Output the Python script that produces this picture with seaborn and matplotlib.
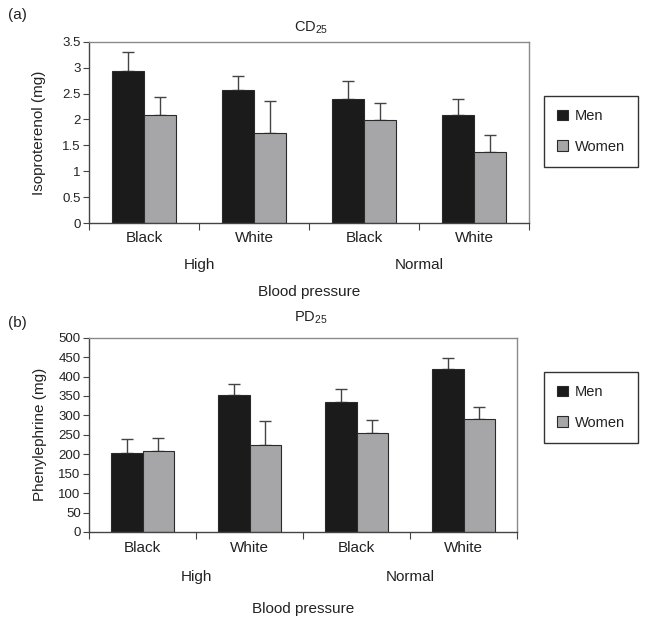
import numpy as np
import pandas as pd
import matplotlib.pyplot as plt
import seaborn as sns
from matplotlib.ticker import FuncFormatter

# Shared categories
bp_level = ['High', 'High', 'Normal', 'Normal']
race = ['Black', 'White', 'Black', 'White']
sexes = ['Men', 'Women']

# (a) CD25, isoproterenol (mg): means and upper error bars
cd_men = [2.94, 2.56, 2.39, 2.09]
cd_men_err = [0.36, 0.28, 0.35, 0.30]
cd_women = [2.08, 1.74, 1.98, 1.38]
cd_women_err = [0.35, 0.62, 0.33, 0.31]

# (b) PD25, phenylephrine (mg)
pd25_men = [204, 353, 334, 419]
pd25_men_err = [35, 27, 33, 30]
pd25_women = [208, 225, 254, 291]
pd25_women_err = [34, 60, 33, 30]

sns.set_style('ticks')
plt.rcParams['font.family'] = ['Liberation Sans', 'DejaVu Sans']
plt.rcParams['mathtext.default'] = 'regular'
TXT = '#222222'

groups = [f'{b} {r}' for b, r in zip(bp_level, race)]


def make_df(men, women):
    return pd.DataFrame({
        'group': groups * 2,
        'sex': ['Men'] * 4 + ['Women'] * 4,
        'value': list(men) + list(women),
    })


def draw_panel(fig, rect, men, men_err, women, women_err, ymax, ystep,
               ylabel, title, tag, title_y, tag_y, legend_top, offs):
    ax = fig.add_axes(rect)
    df = make_df(men, women)
    sns.barplot(data=df, x='group', y='value', hue='sex', order=groups,
                hue_order=sexes, palette=['#1b1b1b', '#a6a6a8'],
                edgecolor='#2a2a2a', linewidth=0.8, width=0.58,
                errorbar=None, ax=ax, zorder=2)

    # upper-only error bars on each bar
    for cont, err in zip(ax.containers, [men_err, women_err]):
        xs = [b.get_x() + b.get_width() / 2 for b in cont]
        ys = [b.get_height() for b in cont]
        ax.errorbar(xs, ys, yerr=[[0] * len(err), err], fmt='none',
                    ecolor='#444444', elinewidth=1, capsize=4, capthick=1,
                    zorder=1)

    ax.set_xlim(-0.5, 3.5)
    ax.set_ylim(0, ymax)
    ax.set_yticks(np.arange(0, ymax + ystep / 2, ystep))
    ax.yaxis.set_major_formatter(FuncFormatter(lambda v, p: f'{v:g}'))
    ax.tick_params(axis='y', labelsize=9.5, length=4, color='#444444',
                   labelcolor=TXT, pad=2)

    ax.set_xticks([-0.5, 0.5, 1.5, 2.5, 3.5], labels=[''] * 5)
    ax.set_xticks(range(4), labels=race, minor=True)
    ax.tick_params(axis='x', which='major', length=5, color='#444444')
    ax.tick_params(axis='x', which='minor', length=0, pad=offs[0],
                   labelsize=11, labelcolor=TXT)
    ax.set_xlabel('')
    ax.set_ylabel(ylabel, fontsize=11, color=TXT)
    ax.yaxis.set_label_coords(-0.098, 0.5)

    for s in ['left', 'bottom']:
        ax.spines[s].set_color('#444444')
    for s in ['top', 'right']:
        ax.spines[s].set_color('#8a8a8a')
        ax.spines[s].set_visible(True)
    for s in ax.spines.values():
        s.set_linewidth(1)

    for x, lab in [(0.5, 'High'), (2.5, 'Normal')]:
        ax.annotate(lab, xy=(x, 0), xycoords=('data', 'axes fraction'),
                    xytext=(0, -offs[1]), textcoords='offset points',
                    ha='center', va='center', fontsize=11, color=TXT)
    ax.annotate('Blood pressure', xy=(0.5, 0), xycoords='axes fraction',
                xytext=(0, -offs[2]), textcoords='offset points',
                ha='center', va='center', fontsize=11, color=TXT)

    fig.text(311 / 645, 1 - title_y / 625, title, ha='center', va='center',
             fontsize=10.5, color=TXT)
    fig.text(8 / 645, 1 - tag_y / 625, tag, ha='left', va='center',
             fontsize=11, color=TXT)

    handles, labels = ax.get_legend_handles_labels()
    leg = ax.legend(handles, labels, loc='upper left',
                    bbox_to_anchor=(544 / 645, 1 - legend_top / 625),
                    bbox_transform=fig.transFigure, borderaxespad=0,
                    fontsize=10.5, handlelength=0.75, handleheight=0.75,
                    handletextpad=0.45, labelspacing=1.15, borderpad=0.9,
                    frameon=True, fancybox=False, framealpha=1)
    leg.get_frame().set_edgecolor('#333333')
    leg.get_frame().set_linewidth(1)
    for t in leg.get_texts():
        t.set_color(TXT)
    return ax


fig = plt.figure(figsize=(6.45, 6.25), dpi=100)

draw_panel(fig, [89 / 645, 1 - 223 / 625, 440 / 645, 181.3 / 625],
           cd_men, cd_men_err, cd_women, cd_women_err, 3.5, 0.5,
           'Isoproterenol (mg)', r'CD$_{25}$', '(a)', 28, 15, 96,
           (6, 30.5, 49.5))

draw_panel(fig, [89 / 645, 1 - 532 / 625, 428 / 645, 194.3 / 625],
           pd25_men, pd25_men_err, pd25_women, pd25_women_err, 500, 50,
           'Phenylephrine (mg)', r'PD$_{25}$', '(b)', 318, 323, 372,
           (6.5, 32.5, 55.5))

fig.savefig('out.png', dpi=100)
